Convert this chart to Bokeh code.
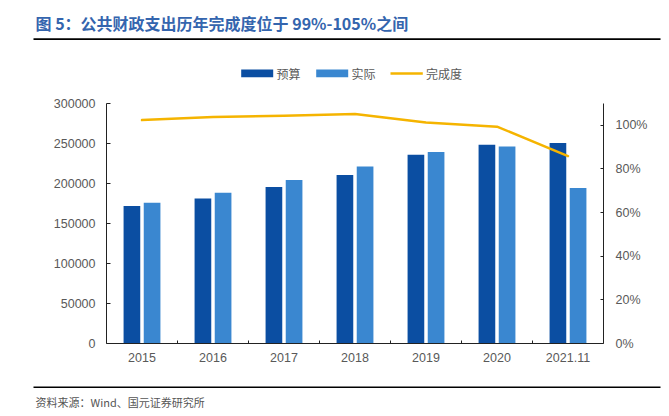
from bokeh.plotting import figure
from bokeh.models import (Range1d, LinearAxis, FixedTicker, NumeralTickFormatter,
                          Label, BoxAnnotation, ColumnDataSource)
from bokeh.layouts import column
from bokeh.embed import file_html
from bokeh.resources import INLINE

categories = ["2015", "2016", "2017", "2018", "2019", "2020", "2021.11"]
budget = [171800, 181300, 195500, 210500, 235900, 248400, 250500]
actual = [175900, 188400, 204300, 221300, 239300, 246300, 194300]
completion = [1.024, 1.038, 1.044, 1.052, 1.013, 0.994, 0.859]
left_ticks = [0, 50000, 100000, 150000, 200000, 250000, 300000]
right_ticks = [0, 0.2, 0.4, 0.6, 0.8, 1.0]
series_names = ["预算", "实际", "完成度"]

title_text = "图 5：公共财政支出历年完成度位于 99%-105%之间"
source_text = "资料来源：Wind、国元证券研究所"

BUDGET_COLOR = "#0B4EA2"
ACTUAL_COLOR = "#3A87D0"
LINE_COLOR = "#F5B400"
AX_COLOR = "#222222"
LBL_COLOR = "#595959"
FONT = "Liberation Sans"
CJK = "Noto Sans CJK SC"
W = 669


def blank(height, y0, y1):
    f = figure(width=W, height=height, output_backend="svg", toolbar_location=None,
               x_range=Range1d(0, W), y_range=Range1d(y1, y0),
               min_border=0, x_axis_type=None, y_axis_type=None)
    f.frame_align = False
    f.outline_line_color = None
    f.xgrid.visible = False
    f.ygrid.visible = False
    return f


# ---------------- header (title + legend) ----------------
TOP_H = 90
top = blank(TOP_H, 0, TOP_H)
top.add_layout(Label(x=35, y=22, text=title_text, text_font=CJK, text_font_style="bold",
                     text_font_size="16px", text_color="#3465AE", text_baseline="middle"))
top.add_layout(BoxAnnotation(left=33, right=660, top=37.8, bottom=39.4,
                             fill_color="black", fill_alpha=1, line_color=None))
# legend: two bar swatches and a line swatch, each followed by its label
legend_specs = [
    (240.7, 272.7, 69.0, 76.8, BUDGET_COLOR, 276.0),
    (315.7, 347.7, 69.0, 76.8, ACTUAL_COLOR, 351.0),
    (390.0, 422.3, 71.7, 74.2, LINE_COLOR, 425.5),
]
for (l, r, t, b, col, tx), name in zip(legend_specs, series_names):
    top.add_layout(BoxAnnotation(left=l, right=r, top=t, bottom=b,
                                 fill_color=col, fill_alpha=1, line_color=None))
    top.add_layout(Label(x=tx, y=72.8, text=name, text_font=CJK, text_font_size="12px",
                         text_color=LBL_COLOR, text_baseline="middle"))

# ---------------- main chart ----------------
idx = list(range(len(categories)))
centers = [i + 0.5 for i in idx]
src = ColumnDataSource(dict(
    xb=[c - 0.142 for c in centers],
    xa=[c + 0.142 for c in centers],
    xc=centers,
    budget=budget, actual=actual, completion=completion,
))

p = figure(width=W, height=290, output_backend="svg", toolbar_location=None,
           x_range=Range1d(0, len(categories)), y_range=Range1d(0, 300000),
           min_border_left=106, min_border_right=66, min_border_top=13, min_border_bottom=37,
           x_axis_type=None, y_axis_type=None)
p.frame_align = False
p.outline_line_color = None
p.xgrid.visible = False
p.ygrid.visible = False
p.extra_y_ranges = {"pct": Range1d(0, 1.1)}

xaxis = LinearAxis(ticker=FixedTicker(ticks=centers, minor_ticks=idx[1:]),
                   major_label_overrides={c: cat for c, cat in zip(centers, categories)})
xaxis.major_tick_in = 0
xaxis.major_tick_out = 0
xaxis.minor_tick_in = 3
xaxis.minor_tick_out = 0
xaxis.minor_tick_line_color = AX_COLOR
xaxis.axis_line_color = AX_COLOR
xaxis.major_label_text_font = FONT
xaxis.major_label_text_font_size = "12.5px"
xaxis.major_label_text_color = LBL_COLOR
xaxis.major_label_standoff = 9
p.add_layout(xaxis, "below")

laxis = LinearAxis(ticker=FixedTicker(ticks=left_ticks), formatter=NumeralTickFormatter(format="0"))
laxis.major_tick_in = 4
laxis.major_tick_out = 0
laxis.minor_tick_line_color = None
laxis.axis_line_color = AX_COLOR
laxis.major_tick_line_color = AX_COLOR
laxis.major_label_text_font = FONT
laxis.major_label_text_font_size = "12.5px"
laxis.major_label_text_color = LBL_COLOR
laxis.major_label_standoff = 11
p.add_layout(laxis, "left")

raxis = LinearAxis(y_range_name="pct", ticker=FixedTicker(ticks=right_ticks),
                   formatter=NumeralTickFormatter(format="0%"))
raxis.major_tick_in = 3
raxis.major_tick_out = 0
raxis.minor_tick_line_color = None
raxis.axis_line_color = AX_COLOR
raxis.major_tick_line_color = AX_COLOR
raxis.major_label_text_font = FONT
raxis.major_label_text_font_size = "12.5px"
raxis.major_label_text_color = LBL_COLOR
raxis.major_label_standoff = 12
p.add_layout(raxis, "right")

p.vbar(x="xb", top="budget", width=0.235, source=src, fill_color=BUDGET_COLOR, line_color=None)
p.vbar(x="xa", top="actual", width=0.235, source=src, fill_color=ACTUAL_COLOR, line_color=None)
p.line(x="xc", y="completion", source=src, y_range_name="pct", line_color=LINE_COLOR,
       line_width=2.5, line_join="round", line_cap="round")

# ---------------- footer (source) ----------------
BOT_TOP = 380
bot = blank(416 - BOT_TOP, BOT_TOP, 416)
bot.add_layout(BoxAnnotation(left=33, right=660, top=386.0, bottom=387.6,
                             fill_color="black", fill_alpha=1, line_color=None))
bot.add_layout(Label(x=35, y=401, text=source_text, text_font=CJK, text_font_size="11px",
                     text_color="#555555", text_baseline="middle"))

layout = column(top, p, bot, spacing=0)
open("out.html", "w").write(file_html(layout, INLINE))
